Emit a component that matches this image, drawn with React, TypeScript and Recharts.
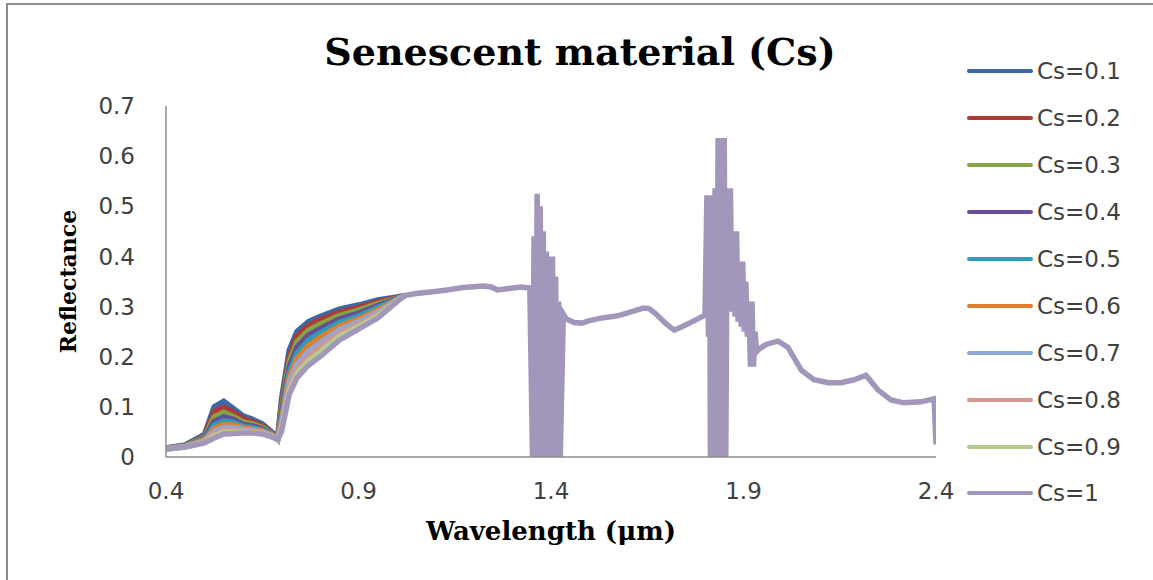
import React from "react";
import { LineChart, Line, XAxis, YAxis, Legend, Label } from "recharts";

// ---- data ----
const visWl = [0.4, 0.45, 0.5, 0.525, 0.55, 0.575, 0.6, 0.625, 0.65, 0.675, 0.69, 0.7, 0.72, 0.74, 0.77, 0.8, 0.85, 0.9, 0.95, 1.0, 1.02];

const cs01 = [0.018, 0.024, 0.045, 0.1, 0.111, 0.097, 0.082, 0.075, 0.066, 0.05, 0.037, 0.115, 0.213, 0.25, 0.27, 0.28, 0.295, 0.303, 0.313, 0.319, 0.322];
const cs02 = [0.018, 0.023, 0.042, 0.09, 0.099, 0.089, 0.076, 0.07, 0.062, 0.048, 0.037, 0.105, 0.2, 0.24, 0.262, 0.273, 0.289, 0.298, 0.31, 0.318, 0.322];
const cs03 = [0.017, 0.023, 0.04, 0.08, 0.089, 0.081, 0.07, 0.066, 0.059, 0.047, 0.036, 0.097, 0.19, 0.23, 0.253, 0.265, 0.282, 0.293, 0.306, 0.317, 0.322];
const cs04 = [0.017, 0.022, 0.038, 0.071, 0.08, 0.075, 0.065, 0.062, 0.056, 0.046, 0.036, 0.088, 0.179, 0.219, 0.243, 0.256, 0.275, 0.287, 0.302, 0.316, 0.322];
const cs05 = [0.017, 0.022, 0.036, 0.063, 0.072, 0.069, 0.061, 0.058, 0.054, 0.045, 0.036, 0.08, 0.168, 0.207, 0.233, 0.247, 0.268, 0.281, 0.298, 0.315, 0.322];
const cs06 = [0.017, 0.021, 0.034, 0.057, 0.065, 0.064, 0.058, 0.055, 0.052, 0.044, 0.036, 0.072, 0.158, 0.196, 0.222, 0.238, 0.261, 0.275, 0.293, 0.314, 0.322];
const cs07 = [0.016, 0.021, 0.032, 0.051, 0.059, 0.059, 0.055, 0.053, 0.05, 0.043, 0.035, 0.066, 0.149, 0.185, 0.211, 0.228, 0.254, 0.27, 0.289, 0.313, 0.322];
const cs08 = [0.016, 0.021, 0.031, 0.046, 0.054, 0.054, 0.052, 0.051, 0.049, 0.042, 0.035, 0.06, 0.14, 0.175, 0.201, 0.219, 0.247, 0.265, 0.285, 0.312, 0.322];
const cs09 = [0.016, 0.02, 0.029, 0.042, 0.05, 0.05, 0.05, 0.049, 0.047, 0.041, 0.035, 0.055, 0.132, 0.166, 0.192, 0.209, 0.24, 0.26, 0.281, 0.311, 0.322];
const cs10Vis = [0.016, 0.02, 0.028, 0.038, 0.046, 0.047, 0.048, 0.048, 0.046, 0.04, 0.035, 0.05, 0.125, 0.158, 0.183, 0.2, 0.233, 0.255, 0.277, 0.31, 0.322];

// Cs=1 beyond 1.02 um (all series coincide there)
const tailWl = [
  1.05, 1.087, 1.13, 1.172, 1.224, 1.245, 1.261, 1.29, 1.321, 1.345,
  1.352, 1.356, 1.36, 1.364, 1.368, 1.372, 1.376, 1.38, 1.384, 1.388, 1.392, 1.396, 1.4, 1.404, 1.408, 1.412, 1.416, 1.42, 1.424,
  1.432, 1.44, 1.46, 1.48, 1.5, 1.53, 1.56, 1.58, 1.61, 1.64, 1.655, 1.67, 1.7, 1.72, 1.74, 1.76, 1.78, 1.8,
  1.805, 1.809, 1.812, 1.814, 1.818, 1.822, 1.826, 1.83, 1.834, 1.838, 1.842, 1.846, 1.85, 1.854, 1.858, 1.862, 1.866, 1.87,
  1.874, 1.878, 1.882, 1.886, 1.89, 1.894, 1.898, 1.902, 1.906, 1.91, 1.914, 1.918, 1.922, 1.926, 1.93, 1.934,
  1.94, 1.96, 1.99, 2.015, 2.05, 2.083, 2.12, 2.153, 2.187, 2.218, 2.249, 2.283, 2.317, 2.361, 2.395, 2.4,
];
const cs10Tail = [
  0.326, 0.329, 0.333, 0.338, 0.341, 0.339, 0.333, 0.336, 0.339, 0.337,
  0, 0.44, 0, 0.525, 0, 0.5, 0, 0.45, 0, 0.41, 0, 0.4, 0, 0.4, 0, 0.36, 0, 0.31, 0,
  0.285, 0.275, 0.268, 0.267, 0.272, 0.277, 0.28, 0.283, 0.29, 0.297, 0.296, 0.287, 0.265, 0.253, 0.26, 0.267, 0.275, 0.283,
  0.522, 0.24, 0.522, 0, 0.46, 0, 0.536, 0, 0.636, 0, 0.636, 0, 0.636, 0, 0.536, 0.3, 0.536, 0.29,
  0.45, 0.28, 0.45, 0.27, 0.39, 0.26, 0.39, 0.25, 0.35, 0.24, 0.31, 0.18, 0.31, 0.18, 0.25, 0.21,
  0.215, 0.225, 0.231, 0.219, 0.173, 0.154, 0.148, 0.148, 0.154, 0.163, 0.134, 0.114, 0.108, 0.11, 0.116, 0.025,
];

const seriesNames = ["Cs=0.1", "Cs=0.2", "Cs=0.3", "Cs=0.4", "Cs=0.5", "Cs=0.6", "Cs=0.7", "Cs=0.8", "Cs=0.9", "Cs=1"];
const seriesColors = ["#3A68A8", "#AE3A35", "#84A543", "#684E96", "#2F9DB8", "#E27D2B", "#8FA9D6", "#D59593", "#B3CD8F", "#A396BB"];
const visSeries = [cs01, cs02, cs03, cs04, cs05, cs06, cs07, cs08, cs09, cs10Vis];

const xTicks = [0.4, 0.9, 1.4, 1.9, 2.4];
const yTicks = [0, 0.1, 0.2, 0.3, 0.4, 0.5, 0.6, 0.7];

// ---- build table ----
const keys = seriesNames.map((_, i) => "s" + i);
const table: any[] = [];
visWl.forEach((wl, j) => {
  const row: any = { wl };
  visSeries.forEach((arr, i) => {
    row[keys[i]] = arr[j];
  });
  table.push(row);
});
tailWl.forEach((wl, j) => {
  table.push({ wl, [keys[9]]: cs10Tail[j] });
});

const tickStyle = { fill: "#404040", fontSize: 23, fontFamily: "DejaVu Sans, Verdana, sans-serif" };

const LegendContent = () => (
  <div style={{ fontFamily: "DejaVu Sans, Verdana, sans-serif", fontSize: 23, color: "#404040" }}>
    {seriesNames.map((name, i) => (
      <div key={name} style={{ display: "flex", alignItems: "center", height: 46.9 }}>
        <div style={{ width: 66, height: 4, borderRadius: 2, background: seriesColors[i], marginRight: 4 }} />
        <span style={{ whiteSpace: "nowrap" }}>{name}</span>
      </div>
    ))}
  </div>
);

export default function App() {
  return (
    <div style={{ position: "absolute", left: 0, top: 0, width: 1153, height: 580, background: "#fff", overflow: "hidden" }}>
      <div
        style={{
          position: "absolute",
          left: 6,
          top: 3,
          width: 1147,
          height: 577,
          borderLeft: "2px solid #8c8c8c",
          borderTop: "2px solid #8c8c8c",
          boxSizing: "border-box",
        }}
      />
      <div
        style={{
          position: "absolute",
          left: 0,
          top: 33,
          width: 1160,
          textAlign: "center",
          fontFamily: "DejaVu Serif, serif",
          fontWeight: "bold",
          fontSize: 38,
          lineHeight: "38px",
          color: "#000",
        }}
      >
        Senescent material (Cs)
      </div>
      <div style={{ position: "absolute", left: 0, top: 0 }}>
        <LineChart width={1153} height={580} data={table} margin={{ top: 106, right: 31, bottom: 33, left: 36 }}>
          <XAxis
            dataKey="wl"
            type="number"
            domain={[0.4, 2.4]}
            ticks={xTicks}
            allowDataOverflow
            tickLine={false}
            tickSize={0}
            tickMargin={26}
            height={90}
            axisLine={{ stroke: "#8c8c8c", strokeWidth: 1.5 }}
            tick={tickStyle}
          >
            <Label
              value="Wavelength (μm)"
              position="insideBottom"
              offset={7}
              style={{ fontFamily: "DejaVu Serif, serif", fontWeight: "bold", fontSize: 26, fill: "#000" }}
            />
          </XAxis>
          <YAxis
            type="number"
            domain={[0, 0.7]}
            ticks={yTicks}
            allowDataOverflow
            tickLine={false}
            tickSize={0}
            tickMargin={31}
            width={130}
            axisLine={{ stroke: "#8c8c8c", strokeWidth: 1.5 }}
            tick={tickStyle}
          >
            <Label
              value="Reflectance"
              angle={-90}
              position="insideLeft"
              offset={32}
              style={{ textAnchor: "middle", fontFamily: "DejaVu Serif, serif", fontWeight: "bold", fontSize: 22, fill: "#000" }}
            />
          </YAxis>
          <Legend
            layout="vertical"
            align="right"
            verticalAlign="top"
            content={<LegendContent />}
            wrapperStyle={{ position: "absolute", left: 967, top: 48, width: 186 }}
          />
          {keys.map((k, i) => (
            <Line
              key={k}
              dataKey={k}
              name={seriesNames[i]}
              type="linear"
              stroke={seriesColors[i]}
              strokeWidth={5.5}
              dot={false}
              activeDot={false}
              connectNulls={false}
              isAnimationActive={false}
            />
          ))}
        </LineChart>
      </div>
    </div>
  );
}
